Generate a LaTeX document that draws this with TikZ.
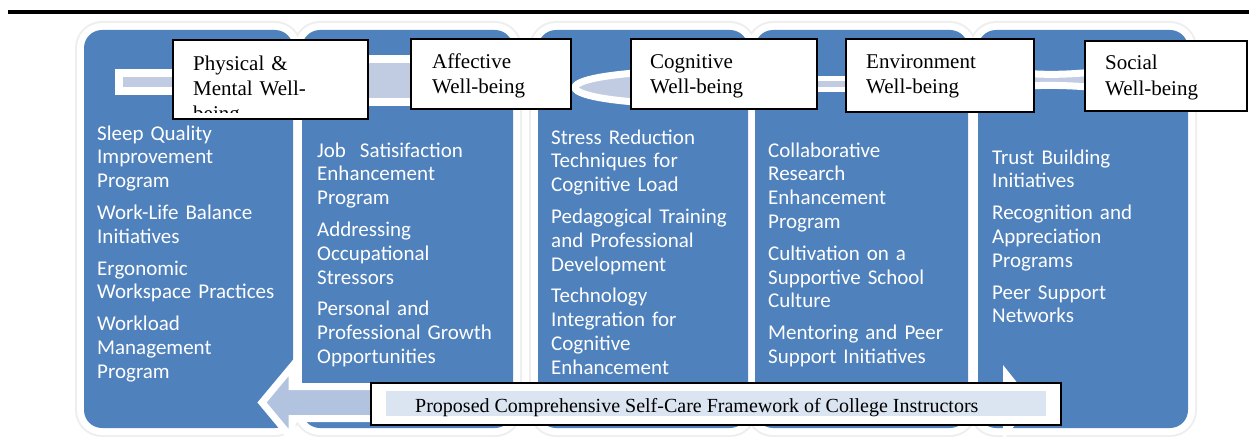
\documentclass[tikz,border=0pt]{standalone}
\usepackage{fontspec}
\setmainfont{Liberation Serif}
\newfontfamily\bodyfont{Carlito}
\definecolor{panelblue}{HTML}{4F81BD}
\definecolor{linkblue}{HTML}{C1CCE2}
\definecolor{arrowfill}{HTML}{B1C3DF}
\definecolor{titleshade}{HTML}{DBE5F1}
\definecolor{halo}{HTML}{EEEEEE}
\begin{document}
\begin{tikzpicture}[x=1pt,y=-1pt,
  panel/.style={fill=panelblue, draw=none, rounded corners=18pt, inner sep=0pt, outer sep=0pt},
  link/.style={fill=linkblue, draw=white},
  headbox/.style={draw=black, line width=2pt, fill=white, inner sep=0pt, outer sep=0pt, rectangle},
  headtext/.style={anchor=base west, inner sep=0pt, text width=185pt, align=left, font=\fontsize{21}{25}\selectfont},
  itemtext/.style={anchor=base west, inner sep=0pt, text width=200pt, align=left, text=white, font=\bodyfont\fontsize{21}{23.8}\selectfont},
]
\useasboundingbox (0,0) rectangle (1249,436);
\clip (0,0) rectangle (1249,436);

% top rule
\draw[line width=4pt] (8,12) -- (1249,12);

% column panels: soft halo, white frame, blue body
\foreach \l/\r in {84/293,302/513,538/748,755/968,978/1188}
  \fill[halo, rounded corners=27pt] (\l-9,21) rectangle (\r+9,437);
\foreach \l/\r in {84/293,302/513,538/748,755/968,978/1188}
  \fill[white, rounded corners=25pt] (\l-7,23) rectangle (\r+7,435);
\node[panel, minimum width=209pt, minimum height=398pt] (p1) at (188.5,229) {};
\node[panel, minimum width=211pt, minimum height=398pt] (p2) at (407.5,229) {};
\node[panel, minimum width=210pt, minimum height=398pt] (p3) at (643,229) {};
\node[panel, minimum width=213pt, minimum height=398pt] (p4) at (861.5,229) {};
\node[panel, minimum width=210pt, minimum height=398pt] (p5) at (1083,229) {};

% linking bands behind the headings
\draw[link, line width=8pt] (119,73) rectangle (210,91);
\draw[link, line width=8pt] (335,59) rectangle (450,102);
\draw[link, line width=7pt] (690,87.5) ellipse [x radius=115, y radius=16.5];
\draw[link, line width=5pt] (790,78) rectangle (880,89);
\draw[link, line width=7pt] (1000,70.5) .. controls (1045,77) and (1075,74) .. (1110,70.5)
  -- (1110,88.5) .. controls (1075,86) and (1045,83) .. (1000,88.5) -- cycle;

% heading boxes
\node[headbox, minimum width=195pt, minimum height=79pt] (h1) at (270.5,79.5) {};
\node[headbox, minimum width=160pt, minimum height=70pt] (h2) at (491,74) {};
\node[headbox, minimum width=186pt, minimum height=70pt] (h3) at (724,74) {};
\node[headbox, minimum width=188pt, minimum height=73pt] (h4) at (940,75.5) {};
\node[headbox, minimum width=162pt, minimum height=70pt] (h5) at (1166,76) {};

\begin{scope}
  \clip (174,41) rectangle (367,112);
  \node[headtext] (l1) at (193,70.5) {Physical \&\\Mental Well-\\being};
\end{scope}
\node[headtext] (l2) at (432,68) {Affective\\Well-being};
\node[headtext] (l3) at (650,68) {Cognitive\\Well-being};
\node[headtext] (l4) at (866,68) {Environment\\Well-being};
\node[headtext] (l5) at (1105,70) {Social\\Well-being};

% bullet lists
\node[itemtext] (t1) at (97,140) {Sleep Quality\\Improvement\\Program\\[8pt]Work-Life Balance\\Initiatives\\[8pt]Ergonomic\\Workspace Practices\\[8pt]Workload\\Management\\Program};
\node[itemtext] (t2) at (317,157) {Job\ \ Satisifaction\\Enhancement\\Program\\[8pt]Addressing\\Occupational\\Stressors\\[8pt]Personal and\\Professional Growth\\Opportunities};
\node[itemtext] (t3) at (551,144) {Stress Reduction\\Techniques for\\Cognitive Load\\[8pt]Pedagogical Training\\and Professional\\Development\\[8pt]Technology\\Integration for\\Cognitive\\Enhancement};
\node[itemtext] (t4) at (768,157) {Collaborative\\Research\\Enhancement\\Program\\[8pt]Cultivation on a\\Supportive School\\Culture\\[8pt]Mentoring and Peer\\Support Initiatives};
\node[itemtext] (t5) at (992,164) {Trust Building\\Initiatives\\[8pt]Recognition and\\Appreciation\\Programs\\[8pt]Peer Support\\Networks};

% framework arrow: left head with shaft, right head in white
\fill[white] (1003,365) -- (1033,402.5) -- (1003,440) -- cycle;
\draw[fill=arrowfill, draw=white, line width=7pt]
  (262,402.5) -- (292,366.5) -- (292,386.5) -- (1000,386.5)
  -- (1000,418.5) -- (292,418.5) -- (292,438.5) -- cycle;

% caption box
\node[draw=black, line width=1.5pt, fill=white, inner sep=0pt, minimum width=690pt, minimum height=42pt] (cap) at (716,404) {};
\fill[titleshade] (386,391) rectangle (1046,416);
\node[anchor=base west, inner sep=0pt, font=\fontsize{20}{24}\selectfont] (captext) at (415,412)
  {Proposed Comprehensive Self-Care Framework of College Instructors};
\end{tikzpicture}
\end{document}
